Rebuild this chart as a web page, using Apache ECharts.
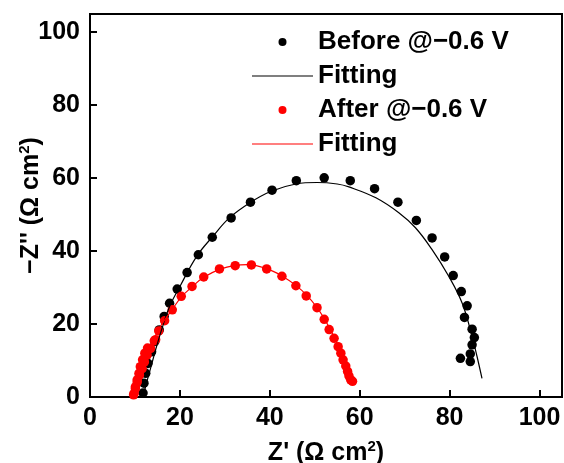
<!DOCTYPE html>
<html>
<head>
	<meta charset="UTF-8">
	<title>EIS</title>
	<style type="text/css">
		* { margin: 0; padding: 0; }
		#chart { width: 564px; height: 463px; background: #fff; }
	</style>
</head>
<body>
	<div id="chart"></div>
	<script src="https://cdn.jsdelivr.net/npm/echarts@6/dist/echarts.min.js" type="text/javascript" charset="utf-8"></script>
	<script type="text/javascript">
		// Before @-0.6 V, measured points [Z', -Z'']
		var beforeData = [
			[11.8, 1.1], [12.0, 3.8], [12.4, 6.5], [12.9, 9.2], [13.7, 12.4], [14.4, 15.2],
			[15.4, 18.4], [16.5, 22.1], [17.7, 25.7], [19.4, 29.6], [21.6, 34.1], [24.1, 39.0],
			[27.2, 43.8], [31.4, 49.1], [35.7, 53.4], [40.5, 56.7], [45.9, 59.3], [52.1, 60.1],
			[57.9, 59.3], [63.3, 57.1], [68.5, 53.4], [72.6, 48.4], [76.1, 43.6], [78.9, 38.4],
			[80.8, 33.3], [82.6, 28.9], [83.9, 25.0], [83.3, 21.8], [85.0, 18.6], [85.5, 16.3],
			[85.0, 14.3], [84.6, 11.8], [82.4, 10.6], [84.6, 9.7]
		];
		// Before, fitting curve
		var beforeFit = [
			[11.8, 0], [12.5, 3.5], [13.5, 8.0], [14.8, 13.8], [16.2, 19.5], [17.7, 24.8],
			[20.0, 30.3], [23.7, 38.5], [27.3, 44.0], [31.0, 49.1], [35.5, 53.2], [40.3, 56.4],
			[45.8, 58.4], [50.5, 58.8], [55.0, 58.4], [57.6, 57.6], [63.6, 54.6], [68.7, 50.5],
			[72.4, 46.4], [76.1, 40.4], [79.8, 33.1], [82.8, 25.7], [85.0, 16.6], [86.1, 11.1],
			[87.2, 5.1]
		];
		// After @-0.6 V, measured points
		var afterData = [
			[9.7, 0.6], [9.8, 1.0], [10.1, 2.3], [10.1, 2.8], [10.5, 4.1], [10.5, 4.7],
			[10.9, 6.5], [11.0, 6.0], [11.2, 8.3], [11.6, 7.8], [11.7, 10.2], [12.1, 9.6],
			[12.2, 12.0], [12.7, 11.5], [12.8, 13.4], [13.5, 13.3], [14.3, 15.4], [14.6, 15.7],
			[15.3, 18.1], [16.6, 20.9], [18.3, 23.9], [20.3, 27.6], [22.7, 30.3], [25.3, 32.9],
			[28.8, 35.1], [32.3, 36.0], [35.9, 36.2], [39.3, 35.1], [42.7, 33.1], [45.8, 30.5],
			[48.1, 27.7], [50.5, 24.5], [52.1, 21.3], [53.2, 18.5], [54.3, 16.1], [55.2, 13.8],
			[55.8, 12.0], [56.3, 10.2], [56.9, 8.5], [57.3, 7.0], [57.6, 5.8], [58.0, 4.7],
			[58.4, 4.3]
		];
		// After, fitting curve
		var afterFit = [
			[9.6, 0], [10.2, 2.5], [10.9, 5.5], [11.8, 9.0], [12.8, 12.5], [14.2, 16.0],
			[16.0, 20.0], [18.3, 24.0], [20.3, 27.4], [22.7, 30.2], [25.3, 32.8], [28.8, 35.0],
			[32.3, 36.1], [35.0, 36.3], [39.3, 35.2], [42.7, 33.2], [45.8, 30.6], [48.3, 27.8],
			[50.4, 24.7], [52.1, 21.5], [53.6, 18.2], [55.0, 14.6], [56.2, 11.0], [57.3, 7.6],
			[58.3, 4.3]
		];
		var xTicks = [0, 20, 40, 60, 80, 100];
		var yTicks = [0, 20, 40, 60, 80, 100];

		var font = 'Liberation Sans, Arial, sans-serif';
		var lineIcon = 'path://M0,0 L60,0 L60,1.2 L0,1.2 Z';
		var myChart = echarts.init(document.getElementById('chart'));

		var option = {
			animation: false,
			backgroundColor: '#fff',
			grid: {
				left: 90,
				right: 2,
				top: 14,
				bottom: 66,
				outerBoundsMode: 'none',
				containLabel: false,
				show: true,
				borderColor: '#000',
				borderWidth: 2
			},
			legend: {
				orient: 'vertical',
				left: 247,
				top: 24,
				itemWidth: 61,
				itemHeight: 8,
				itemGap: 8,
				data: [
					{ name: 'Before @−0.6 V', icon: 'circle' },
					{ name: 'Fitting|b', icon: lineIcon },
					{ name: 'After @−0.6 V', icon: 'circle' },
					{ name: 'Fitting|r', icon: lineIcon }
				],
				formatter: function(name) {
					return name.split('|')[0];
				},
				textStyle: {
					fontFamily: font,
					fontWeight: 'bold',
					fontSize: 26,
					color: '#000',
					lineHeight: 26
				}
			},
			xAxis: {
				type: 'value',
				min: 0,
				max: 105,
				interval: 20,
				name: "{a|Z' (Ω cm}{s|2}{a|)}",
				nameLocation: 'middle',
				nameGap: 42,
				nameMoveOverlap: false,
				nameTextStyle: {
					rich: {
						a: { fontFamily: font, fontWeight: 'bold', fontSize: 25, color: '#000' },
						s: { fontFamily: font, fontWeight: 'bold', fontSize: 15, color: '#000', padding: [0, 0, 14, 0] }
					}
				},
				axisLine: { onZero: false, lineStyle: { color: '#000', width: 2 } },
				axisTick: { inside: true, length: 7, lineStyle: { color: '#000', width: 2 } },
				axisLabel: {
					showMaxLabel: false,
					margin: 9,
					fontFamily: font,
					fontWeight: 'bold',
					fontSize: 25,
					color: '#000',
					formatter: function(v) {
						return xTicks.indexOf(v) >= 0 ? String(v) : '';
					}
				},
				splitLine: { show: false }
			},
			yAxis: {
				type: 'value',
				min: 0,
				max: 105,
				interval: 20,
				name: "{a|−Z'' (Ω cm}{s|2}{a|)}",
				nameLocation: 'middle',
				nameGap: 44,
				nameMoveOverlap: false,
				nameTextStyle: {
					rich: {
						a: { fontFamily: font, fontWeight: 'bold', fontSize: 25, color: '#000' },
						s: { fontFamily: font, fontWeight: 'bold', fontSize: 15, color: '#000', padding: [0, 0, 14, 0] }
					}
				},
				axisLine: { onZero: false, lineStyle: { color: '#000', width: 2 } },
				axisTick: { inside: true, length: 7, lineStyle: { color: '#000', width: 2 } },
				axisLabel: {
					showMaxLabel: false,
					margin: 10,
					fontFamily: font,
					fontWeight: 'bold',
					fontSize: 25,
					color: '#000',
					formatter: function(v) {
						return yTicks.indexOf(v) >= 0 ? String(v) : '';
					}
				},
				splitLine: { show: false }
			},
			series: [
				{
					name: 'Before @−0.6 V',
					type: 'scatter',
					data: beforeData,
					symbolSize: 9.5,
					itemStyle: { color: '#000', opacity: 1 }
				},
				{
					name: 'Fitting|b',
					type: 'line',
					data: beforeFit,
					smooth: 0.4,
					symbol: 'none',
					lineStyle: { color: '#000', width: 1.2 },
					itemStyle: { color: '#000' }
				},
				{
					name: 'After @−0.6 V',
					type: 'scatter',
					data: afterData,
					symbolSize: 9.5,
					itemStyle: { color: '#ff0000', opacity: 1 }
				},
				{
					name: 'Fitting|r',
					type: 'line',
					data: afterFit,
					smooth: 0.4,
					symbol: 'none',
					lineStyle: { color: '#ff0000', width: 1.2 },
					itemStyle: { color: '#ff0000' }
				}
			]
		};

		myChart.setOption(option);
		window.addEventListener('resize', myChart.resize);
	</script>
</body>
</html>
